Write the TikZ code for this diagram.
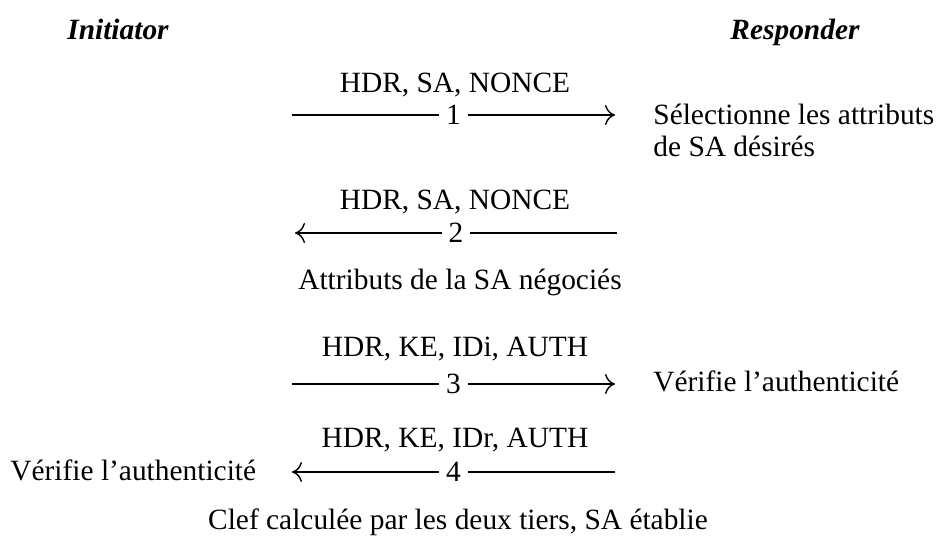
\documentclass[tikz,border=0pt]{standalone}
\usepackage{fontspec}
\setmainfont{Liberation Serif}
\usetikzlibrary{arrows.meta}
\tikzset{
	msg/.style={line width=0.7pt,-{To[length=5pt,width=10pt]}},
	num/.style={fill=white,inner xsep=3.5pt,inner ysep=0pt},
	txt/.style={inner sep=0pt,anchor=base},
	side/.style={inner sep=0pt,anchor=base west,align=left},
}
\begin{document}
\begin{tikzpicture}[x=0.5pt,y=-0.5pt,font=\fontsize{14.7}{16}\selectfont]
	\useasboundingbox (0,0) rectangle (936,539);
	% Parties
	\node[txt,font=\fontsize{14.7}{16}\selectfont\bfseries\itshape] (init) at (118,40) {Initiator};
	\node[txt,font=\fontsize{14.7}{16}\selectfont\bfseries\itshape] (resp) at (795,40) {Responder};
	% Message ends
	\coordinate (m1s) at (292,115); \coordinate (m1e) at (615,115);
	\coordinate (m2s) at (295,233); \coordinate (m2e) at (617,233);
	\coordinate (m3s) at (292,384); \coordinate (m3e) at (615,384);
	\coordinate (m4s) at (292,472); \coordinate (m4e) at (615,472);
	% Messages
	\node[txt] (pl1) at (455,93) {HDR, SA, NONCE};
	\draw[msg] (m1s) -- node[num] (n1) {1} (m1e);
	\node[side] (sel) at (653,157) {Sélectionne les attributs\\de SA désirés};
	\node[txt] (pl2) at (455,210) {HDR, SA, NONCE};
	\draw[msg] (m2e) -- node[num] (n2) {2} (m2s);
	\node[txt] (neg) at (460,290) {Attributs de la SA négociés};
	\node[txt] (pl3) at (455,357) {HDR, KE, IDi, AUTH};
	\draw[msg] (m3s) -- node[num] (n3) {3} (m3e);
	\node[side] (ver3) at (653,392) {Vérifie l’authenticité};
	\node[txt] (pl4) at (455,447) {HDR, KE, IDr, AUTH};
	\draw[msg] (m4e) -- node[num] (n4) {4} (m4s);
	\node[side] (ver4) at (10,480) {Vérifie l’authenticité};
	% Result
	\node[txt] (clef) at (458,529) {Clef calculée par les deux tiers, SA établie};
\end{tikzpicture}
\end{document}
